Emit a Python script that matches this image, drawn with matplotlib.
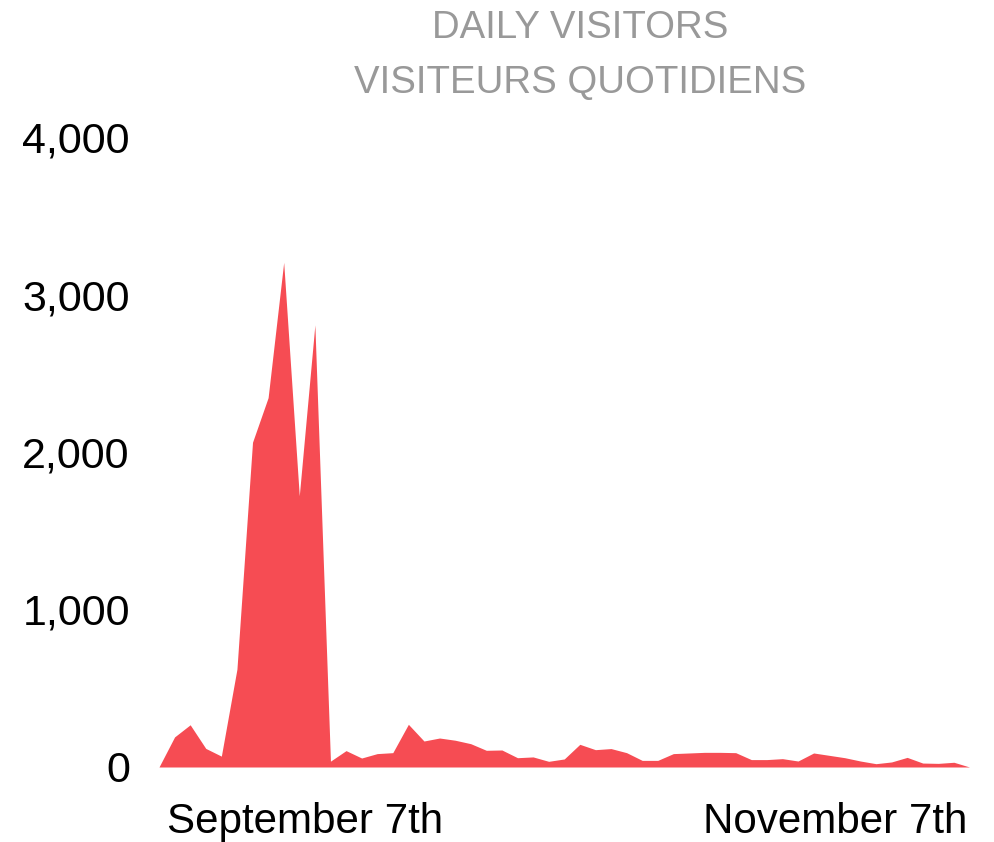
import matplotlib
matplotlib.use("Agg")
import matplotlib.pyplot as plt
import numpy as np
from matplotlib.ticker import FuncFormatter

plt.rcParams['font.family'] = ['Liberation Sans', 'DejaVu Sans']

visitors = [0, 191, 268, 118, 69, 621, 2062, 2345, 3204, 1722, 2807, 37, 104,
            57, 85, 91, 271, 165, 184, 170, 148, 106, 108, 59, 64, 36, 51,
            144, 110, 117, 91, 42, 42, 85, 89, 93, 93, 91, 47, 47, 53, 38,
            89, 74, 59, 38, 21, 32, 61, 25, 23, 30, 0]
y_ticks = [0, 1000, 2000, 3000, 4000]
x_tick_pos = [9.4, 43.4]
x_tick_labels = ["September 7th", "November 7th"]
title_lines = ["DAILY VISITORS", "VISITEURS QUOTIDIENS"]

x = np.arange(len(visitors))

fig = plt.figure(figsize=(9.95, 8.42), dpi=100)
ax = fig.add_axes([159 / 995, 75 / 842, 810.5 / 995, 630 / 842])
ax.fill_between(x, visitors, 0, color='#f64c53', linewidth=0)
ax.set_xlim(0, len(visitors) - 1)
ax.set_ylim(0, 4000)
ax.set_yticks(y_ticks)
ax.yaxis.set_major_formatter(FuncFormatter(lambda v, p: f"{int(v):,}"))
ax.set_xticks(x_tick_pos)
ax.set_xticklabels(x_tick_labels)
for s in ax.spines.values():
    s.set_visible(False)
ax.tick_params(axis='y', length=0, pad=21, labelsize=31, labelcolor='black')
ax.tick_params(axis='x', length=0, pad=25, labelsize=30.3, labelcolor='black')

fig.text(580 / 995, 1 - 28 / 842, title_lines[0], ha='center', va='center',
         fontsize=27.6, color='#999999')
fig.text(580 / 995, 1 - 83 / 842, title_lines[1], ha='center', va='center',
         fontsize=27.6, color='#999999')

fig.savefig("out.png", dpi=100)
